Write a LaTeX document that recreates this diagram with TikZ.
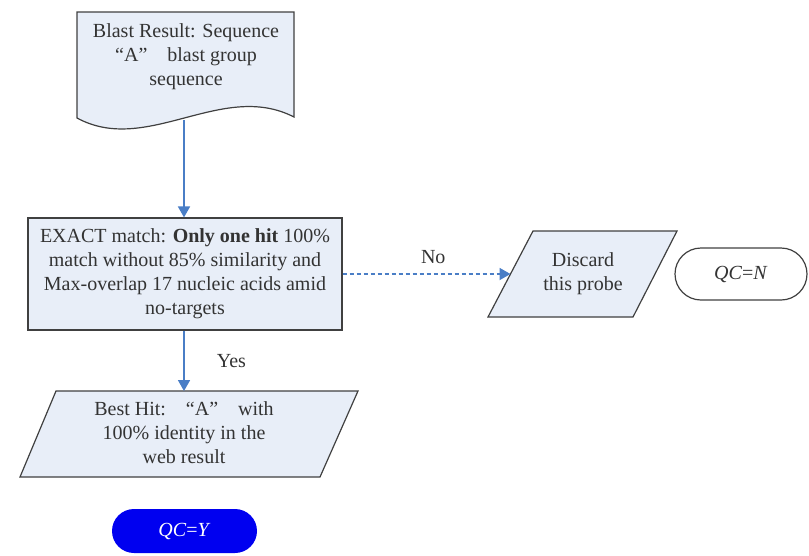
\documentclass[tikz,border=0pt]{standalone}
\usepackage{fontspec}
\setmainfont{Liberation Serif}
\usetikzlibrary{shapes.misc,arrows.meta}
\definecolor{boxfill}{HTML}{E8EEF8}
\definecolor{arrowblue}{HTML}{4A7EC6}
\definecolor{edgegray}{HTML}{404040}
\definecolor{qcblue}{HTML}{0000F0}
\tikzset{
  shapeline/.style={draw=edgegray, line width=1.2pt, fill=boxfill},
  txt/.style={font=\fontsize{20}{24}\selectfont, align=center, text=black!80, inner sep=0pt},
  flow/.style={draw=arrowblue, line width=1.8pt, -{Triangle[length=11pt,width=12pt]}},
  dflow/.style={flow, dash pattern=on 4pt off 3pt},
  lbl/.style={font=\fontsize{20}{24}\selectfont, text=black!80, inner sep=0pt}
}
\begin{document}
\begin{tikzpicture}[x=1pt,y=-1pt]
\useasboundingbox (0,0) rectangle (809,555);
% document shape
\draw[shapeline] (77,12) -- (294,12) -- (294,117)
  .. controls (222,80) and (147,156) .. (77,118) -- cycle;
\node[txt] (doc) at (186,57) {Blast Result: Sequence\\“A”\quad blast group\\sequence};
\coordinate (docout) at (184,120);
% exact box
\node[shapeline, txt, minimum width=314pt, minimum height=112pt, inner sep=0pt] (exact) at (185,274)
  {EXACT match: \textbf{Only one hit} 100\%\\match without 85\% similarity and\\Max-overlap 17 nucleic acids amid\\no-targets};
% discard parallelogram
\draw[shapeline] (533,231) -- (677,231) -- (633,317) -- (488,317) -- cycle;
\coordinate (discardin) at (510.5,274);
\node[txt] (discard) at (583,274) {Discard\\this probe};
% QC=N
\node[draw=edgegray, line width=1.2pt, rounded rectangle, minimum width=132pt, minimum height=52pt, inner sep=0pt, font=\fontsize{20}{24}\selectfont, text=black!80] (qcn) at (741,274) {\textit{QC}=\textit{N}};
% best hit parallelogram
\draw[shapeline] (56,391) -- (358,391) -- (320,477) -- (20,477) -- cycle;
\coordinate (bestin) at (184,391);
\node[txt] (best) at (184,433) {Best Hit:\quad“A”\quad with\\100\% identity in the\\web result};
% QC=Y
\node[fill=qcblue, rounded rectangle, minimum width=145pt, minimum height=44pt, inner sep=0pt, font=\fontsize{20}{24}\selectfont, text=white] (qcy) at (184.5,531) {\textit{QC}=\textit{Y}};
% connectors
\draw[flow] (docout) -- (exact.north -| docout);
\draw[dflow] (exact.east) -- (discardin) node[lbl, pos=0.54, above=9pt] (no) {No};
\draw[flow] (exact.south -| bestin) -- (bestin) node[lbl, midway, right=32pt] (yes) {Yes};
\end{tikzpicture}
\end{document}
